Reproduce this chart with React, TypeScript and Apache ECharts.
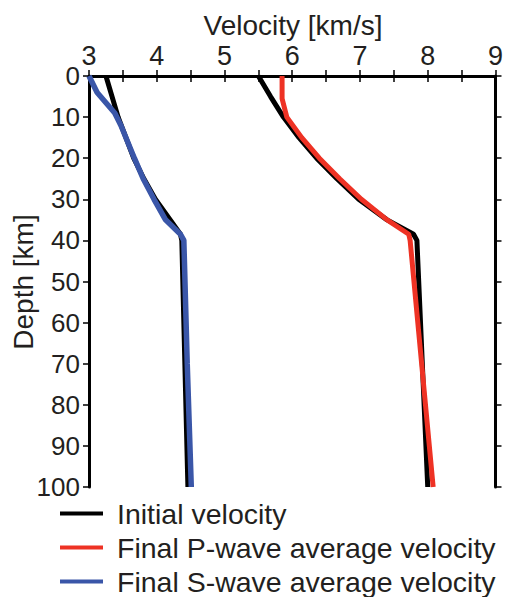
import React, { useEffect, useRef } from "react";
import * as echarts from "echarts";

// Velocity-depth profiles (velocity km/s, depth km)
const initialPDepth = [0, 5, 10, 15, 20, 25, 30, 35, 38.5, 40, 100];
const initialPVel = [5.5, 5.68, 5.87, 6.1, 6.36, 6.66, 6.98, 7.4, 7.79, 7.84, 8.0];

const initialSDepth = [0, 10, 20, 25, 30, 38.5, 40, 100];
const initialSVel = [3.25, 3.43, 3.66, 3.81, 3.98, 4.35, 4.37, 4.46];

const finalPDepth = [0, 5.5, 10, 15, 20, 25, 30, 35, 38.5, 40, 100];
const finalPVel = [5.85, 5.85, 5.92, 6.14, 6.4, 6.7, 7.02, 7.4, 7.72, 7.74, 8.08];

const finalSDepth = [0, 4, 6.5, 9, 12, 20, 25, 30, 35, 38.5, 40, 70, 100];
const finalSVel = [3.0, 3.12, 3.25, 3.38, 3.47, 3.67, 3.8, 3.96, 4.13, 4.35, 4.4, 4.45, 4.51];

const seriesNames = [
  "Initial velocity",
  "Final P-wave average velocity",
  "Final S-wave average velocity",
];

const xTitle = "Velocity [km/s]";
const yTitle = "Depth [km]";

const pairs = (v: number[], d: number[]) => v.map((x, i) => [x, d[i]]);

export default function App() {
  const ref = useRef<HTMLDivElement>(null);
  useEffect(() => {
    document.body.style.margin = "0";
    const chart = echarts.init(ref.current!, null, { renderer: "svg" });
    const font = "Liberation Sans, Arial, sans-serif";
    const axisLine = { show: true, lineStyle: { color: "#000", width: 3 } };
    const tick = { show: true, inside: false, length: 6, lineStyle: { color: "#000", width: 1.5 } };
    const minorTick = { show: true, splitNumber: 2, length: 6, lineStyle: { color: "#000", width: 1.5 } };
    const line = (name: string, data: number[][], color: string, width: number) => ({
      name,
      type: "line",
      data,
      showSymbol: false,
      symbol: "none",
      lineStyle: { color, width },
      itemStyle: { color },
      xAxisIndex: 0,
      yAxisIndex: 0,
    });
    chart.setOption({
      animation: false,
      textStyle: { fontFamily: font },
      grid: { left: 89, top: 76, right: 8, bottom: 110 },
      xAxis: [
        {
          type: "value",
          position: "top",
          min: 3,
          max: 9,
          interval: 1,
          axisLine,
          axisTick: tick,
          minorTick,
          splitLine: { show: false },
          axisLabel: { fontSize: 27, color: "#231f20", margin: 7, fontFamily: font },
        },
        {
          type: "value",
          position: "bottom",
          min: 3,
          max: 9,
          interval: 1,
          axisLine,
          axisTick: tick,
          minorTick,
          splitLine: { show: false },
          axisLabel: { show: false },
        },
      ],
      yAxis: [
        {
          type: "value",
          inverse: true,
          position: "left",
          min: 0,
          max: 100,
          interval: 10,
          axisLine,
          axisTick: tick,
          splitLine: { show: false },
          axisLabel: { fontSize: 26, color: "#231f20", margin: 9, fontFamily: font },
        },
        {
          type: "value",
          inverse: true,
          position: "right",
          min: 0,
          max: 100,
          interval: 10,
          axisLine,
          axisTick: tick,
          splitLine: { show: false },
          axisLabel: { show: false },
        },
      ],
      legend: {
        orient: "vertical",
        left: 60,
        top: 499,
        icon: "rect",
        itemWidth: 43,
        itemHeight: 4,
        itemGap: 5,
        padding: 0,
        data: seriesNames,
        textStyle: {
          fontSize: 28.5,
          lineHeight: 28,
          color: "#231f20",
          fontFamily: font,
          padding: [0, 0, 0, 9],
        },
        selectedMode: false,
      },
      graphic: [
        {
          type: "text",
          x: 293,
          y: 25,
          style: {
            text: xTitle,
            fontSize: 28,
            fontFamily: font,
            fill: "#231f20",
            textAlign: "center",
            textVerticalAlign: "middle",
          },
        },
        {
          type: "text",
          x: 23,
          y: 282,
          rotation: Math.PI / 2,
          style: {
            text: yTitle,
            fontSize: 28,
            fontFamily: font,
            fill: "#231f20",
            textAlign: "center",
            textVerticalAlign: "middle",
          },
        },
      ],
      series: [
        line(seriesNames[0], pairs(initialPVel, initialPDepth), "#000000", 5),
        line(seriesNames[0], pairs(initialSVel, initialSDepth), "#000000", 5),
        line(seriesNames[1], pairs(finalPVel, finalPDepth), "#ee3224", 5),
        line(seriesNames[2], pairs(finalSVel, finalSDepth), "#3a56a8", 5.5),
      ],
    });
    return () => chart.dispose();
  }, []);
  return <div ref={ref} style={{ width: 506, height: 597 }} />;
}
